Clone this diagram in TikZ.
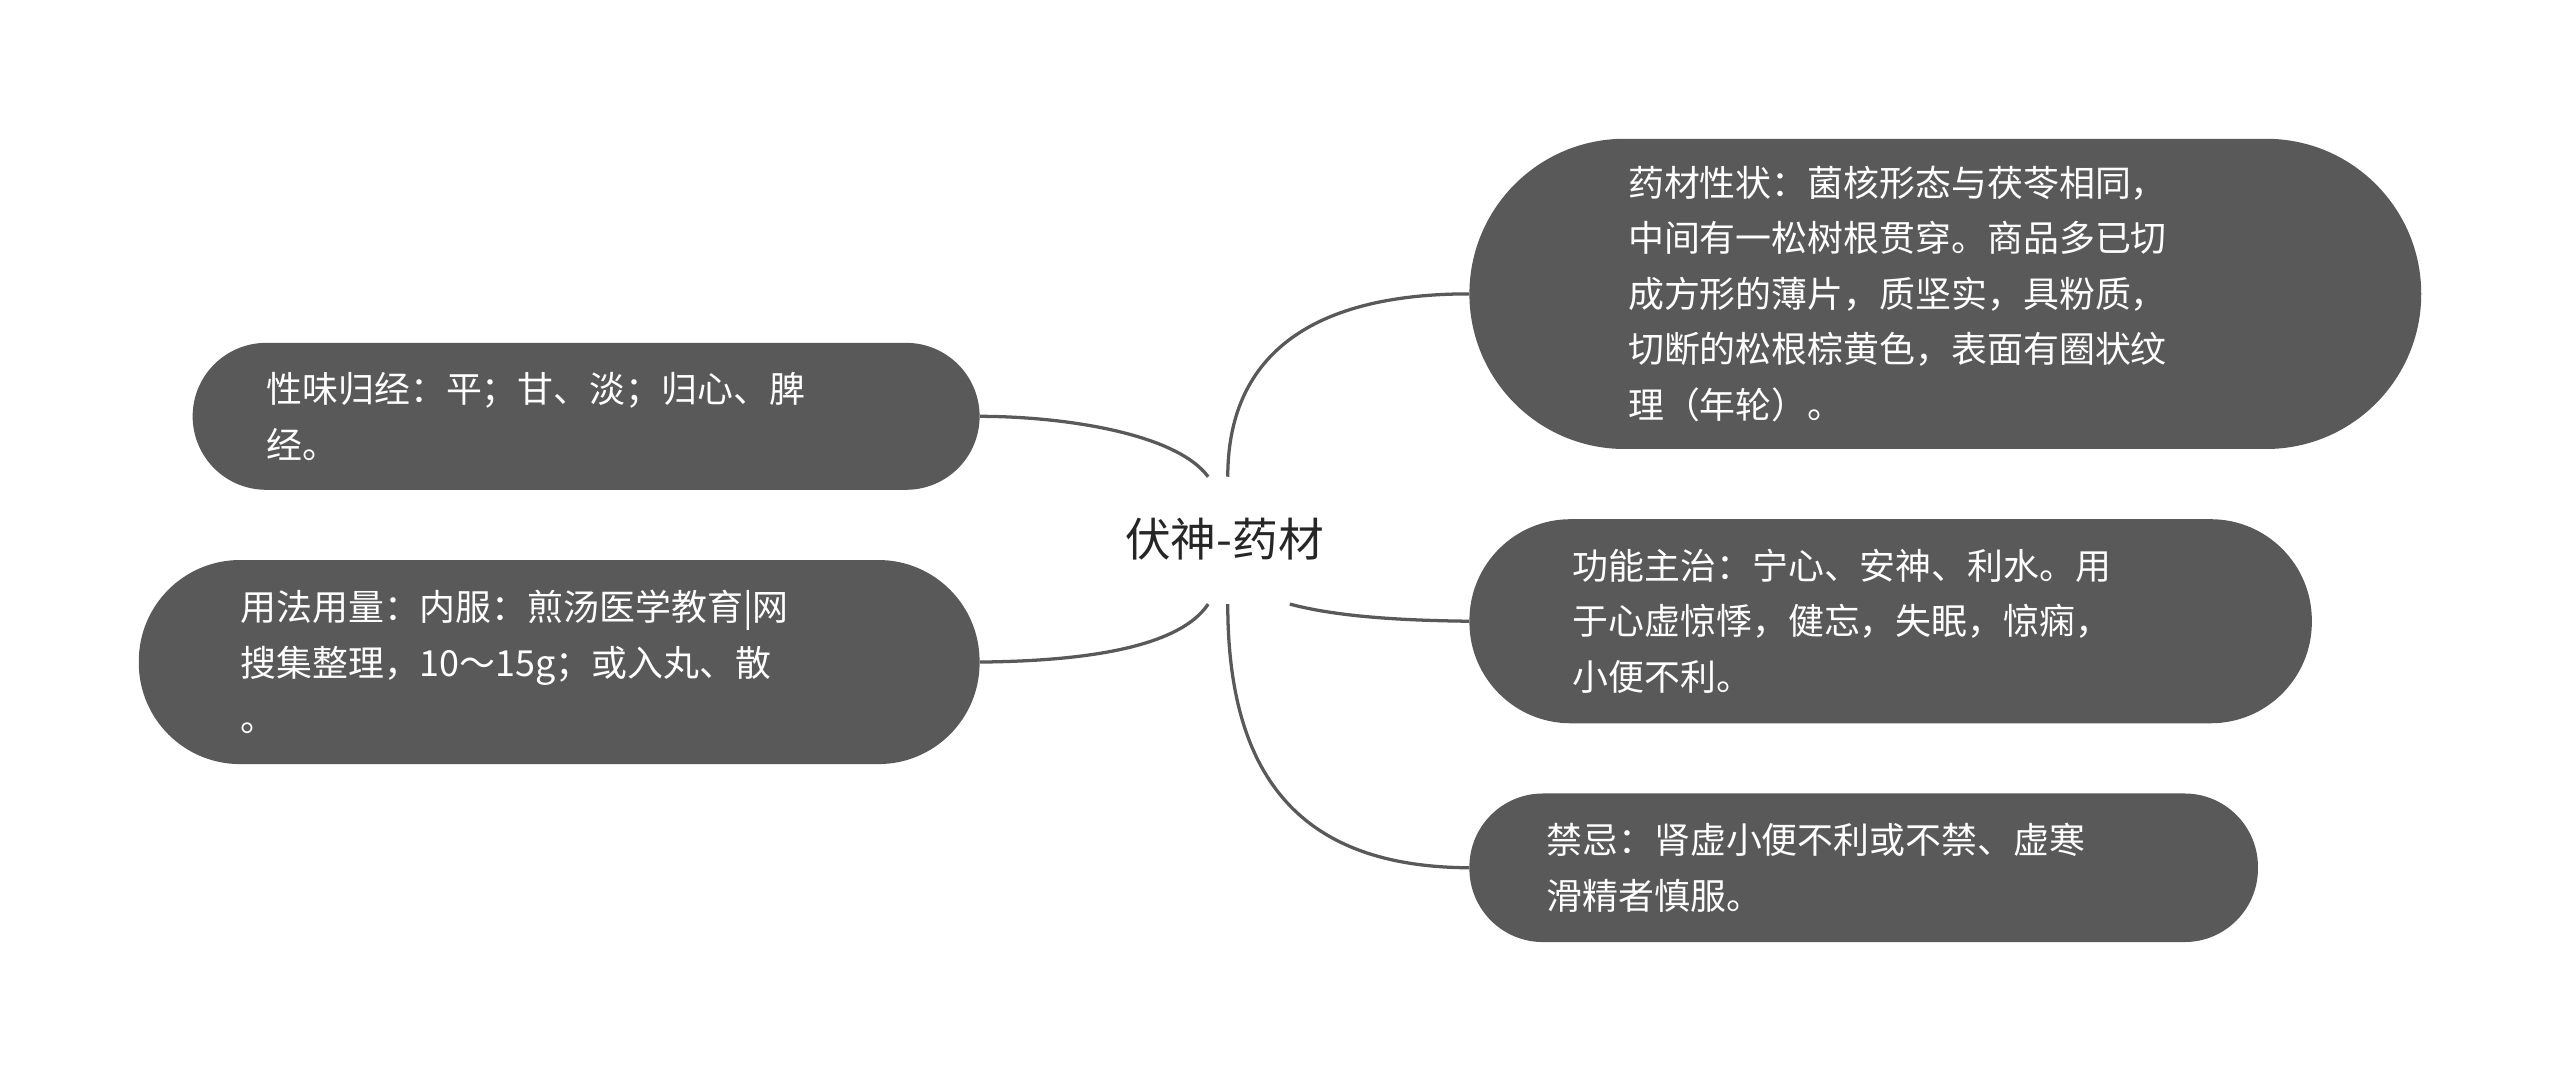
\documentclass[tikz,border=0pt]{standalone}
\usepackage{fontspec}
\setmainfont{Noto Sans CJK SC}
\begin{document}
\begin{tikzpicture}[x=1pt,y=-1pt,
 box/.style={draw=none,fill=boxgray,inner sep=0pt},
 txt/.style={anchor=west,text=white,align=left,inner sep=0pt,font=\fontsize{22}{34}\selectfont},
 link/.style={draw=linegray,line width=2pt}]
\definecolor{boxgray}{HTML}{595959}
\definecolor{linegray}{HTML}{595959}
\useasboundingbox (0,0) rectangle (1568,662);
\fill[white] (0,0) rectangle (1568,662);
\node[font=\fontsize{28}{34}\selectfont,text=black!85] (c) at (750,330) {伏神-药材};
\node[box,minimum width=583pt,minimum height=190pt,rounded corners=95pt] (tr) at (1191.5,180) {};
\node[txt] (trt) at (997,180) {药材性状：菌核形态与茯苓相同，\\中间有一松树根贯穿。商品多已切\\成方形的薄片，质坚实，具粉质，\\切断的松根棕黄色，表面有圈状纹\\理（年轮）。};
\node[box,minimum width=516pt,minimum height=125pt,rounded corners=62pt] (mr) at (1158,380.5) {};
\node[txt] (mrt) at (963,380.5) {功能主治：宁心、安神、利水。用\\于心虚惊悸，健忘，失眠，惊痫，\\小便不利。};
\node[box,minimum width=483pt,minimum height=91pt,rounded corners=45pt] (br) at (1141.5,531.5) {};
\node[txt] (brt) at (947,531.5) {禁忌：肾虚小便不利或不禁、虚寒\\滑精者慎服。};
\node[box,minimum width=482pt,minimum height=90pt,rounded corners=45pt] (lt) at (359,255) {};
\node[txt] (ltt) at (163,255) {性味归经：平；甘、淡；归心、脾\\经。};
\node[box,minimum width=515pt,minimum height=125pt,rounded corners=62pt] (lb) at (342.5,405.5) {};
\node[txt] (lbt) at (147,405.5) {用法用量：内服：煎汤医学教育|网\\搜集整理，10～15g；或入丸、散\\。};
\coordinate (A) at (752,292);
\coordinate (B) at (740,292);
\coordinate (C) at (790,370);
\coordinate (D) at (752,370);
\coordinate (E) at (740,370);
\draw[link] (A) .. controls (752,220) and (800,180) .. (tr.west);
\draw[link] (B) .. controls (720,265) and (650,255) .. (lt.east);
\draw[link] (E) .. controls (720,400) and (650,405) .. (lb.east);
\draw[link] (C) .. controls (820,378) and (860,380) .. (mr.west);
\draw[link] (D) .. controls (752,480) and (800,531) .. (br.west);
\end{tikzpicture}
\end{document}
